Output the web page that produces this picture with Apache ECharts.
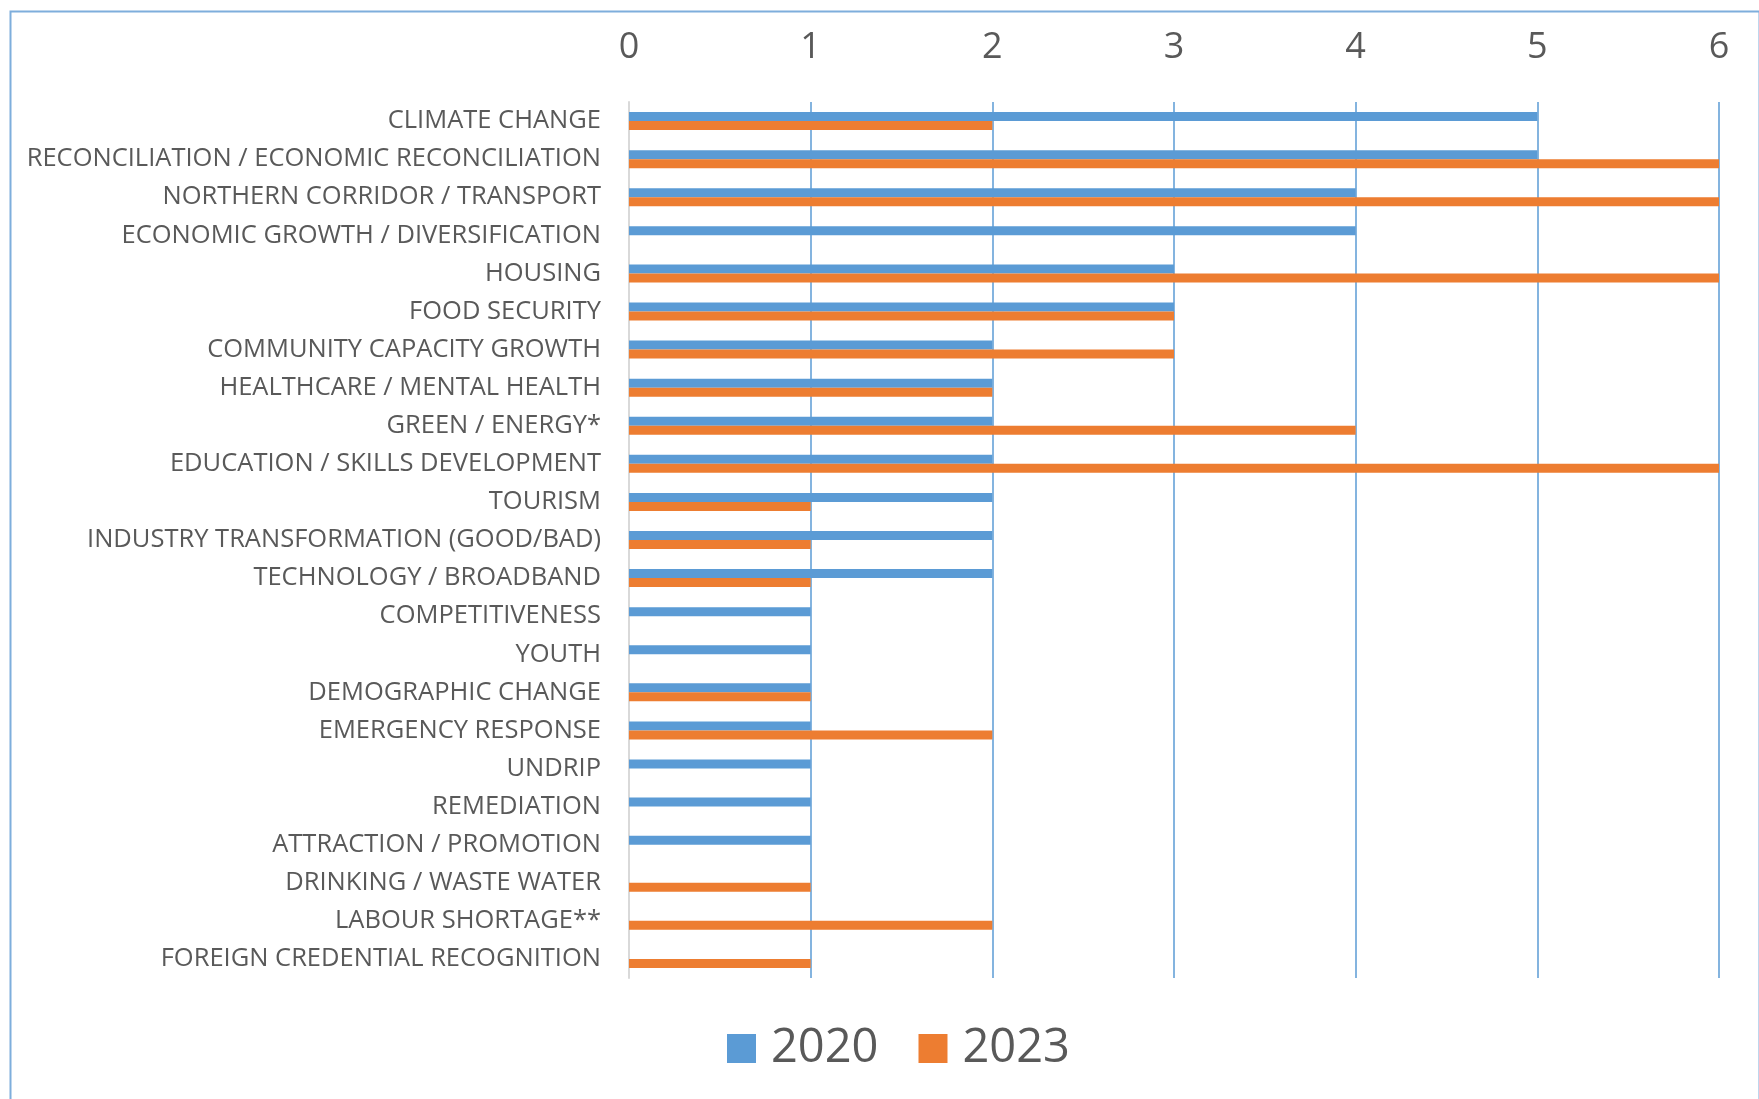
<!DOCTYPE html>
<html>
<head>
<meta charset="utf-8">
<script src="https://cdn.jsdelivr.net/npm/echarts@6/dist/echarts.min.js"></script>
<style>html,body{margin:0;padding:0;background:#fff}#c{width:1759px;height:1099px}</style>
</head>
<body>
<div id="c"></div>
<script>
const categories = [
  'CLIMATE CHANGE',
  'RECONCILIATION / ECONOMIC RECONCILIATION',
  'NORTHERN CORRIDOR / TRANSPORT',
  'ECONOMIC GROWTH / DIVERSIFICATION',
  'HOUSING',
  'FOOD SECURITY',
  'COMMUNITY CAPACITY GROWTH',
  'HEALTHCARE / MENTAL HEALTH',
  'GREEN / ENERGY*',
  'EDUCATION / SKILLS DEVELOPMENT',
  'TOURISM',
  'INDUSTRY TRANSFORMATION (GOOD/BAD)',
  'TECHNOLOGY / BROADBAND',
  'COMPETITIVENESS',
  'YOUTH',
  'DEMOGRAPHIC CHANGE',
  'EMERGENCY RESPONSE',
  'UNDRIP',
  'REMEDIATION',
  'ATTRACTION / PROMOTION',
  'DRINKING / WASTE WATER',
  'LABOUR SHORTAGE**',
  'FOREIGN CREDENTIAL RECOGNITION'
];
const values2020 = [5,5,4,4,3,3,2,2,2,2,2,2,2,1,1,1,1,1,1,1,0,0,0];
const values2023 = [2,6,6,0,6,3,3,2,4,6,1,1,1,0,0,1,2,0,0,0,1,2,1];
const xTicks = [0,1,2,3,4,5,6];

const chart = echarts.init(document.getElementById('c'));
const font = 'Open Sans';
chart.setOption({
  animation: false,
  textStyle: { fontFamily: font },
  graphic: [{
    type: 'rect', left: 8, top: 9, shape: { width: 1749, height: 1200 },
    style: { fill: 'none', stroke: '#7EAEDC', lineWidth: 2 }, silent: true, z: -1
  }],
  grid: { left: 629, right: 40, top: 102, bottom: 121, containLabel: false },
  legend: {
    bottom: 22, left: 722, itemWidth: 29, itemHeight: 29, itemGap: 40,
    icon: 'rect',
    textStyle: { fontSize: 47, color: '#595959', fontFamily: font, padding: [0, 0, 0, 10] },
    data: ['2020', '2023']
  },
  xAxis: {
    type: 'value', position: 'top', min: xTicks[0], max: xTicks[xTicks.length-1], interval: 1,
    axisLine: { show: false }, axisTick: { show: false },
    axisLabel: { fontSize: 36, color: '#595959', margin: 36, fontFamily: font },
    splitLine: { show: true, lineStyle: { color: '#5B9BD5', width: 1.5 } }
  },
  yAxis: {
    type: 'category', inverse: true, data: categories,
    axisLine: { show: true, lineStyle: { color: '#D9D9D9', width: 2 } },
    axisTick: { show: false },
    axisLabel: { fontSize: 25.5, color: '#595959', margin: 28, fontFamily: font }
  },
  series: [
    { name: '2020', type: 'bar', data: values2020, barWidth: 9, barGap: '0%',
      itemStyle: { color: '#5B9BD5' } },
    { name: '2023', type: 'bar', data: values2023, barWidth: 9, barGap: '0%',
      itemStyle: { color: '#ED7D31' } }
  ]
});
</script>
</body>
</html>
